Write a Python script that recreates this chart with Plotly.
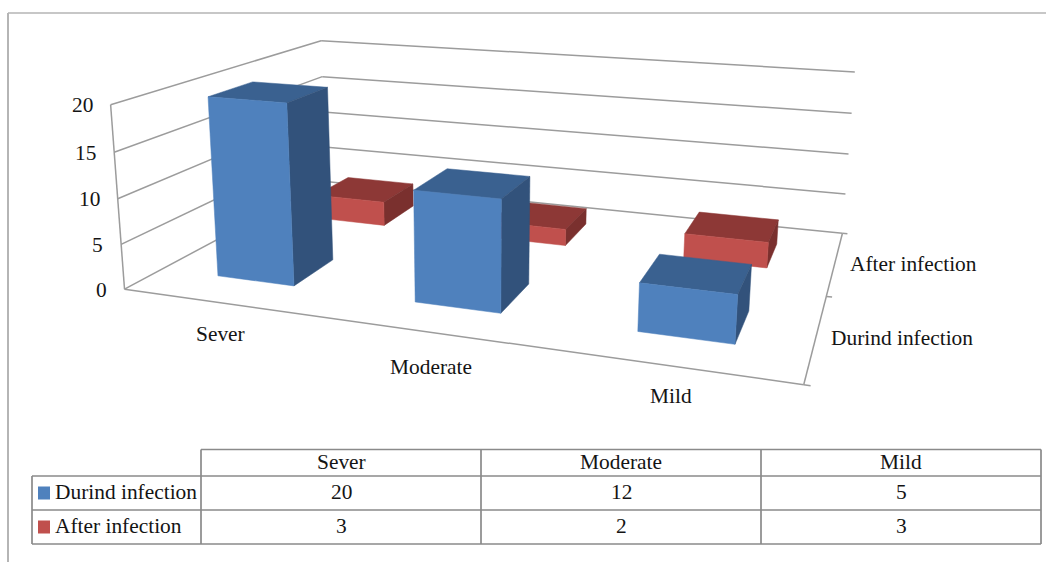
import numpy as np
import plotly.graph_objects as go

# Chart data
categories = ["Sever", "Moderate", "Mild"]
series_names = ["Durind infection", "After infection"]
during_infection = [20, 12, 5]
after_infection = [3, 2, 3]
value_ticks = [0, 5, 10, 15, 20]

# Projective view of the (category, series, value) box onto page pixels
VIEW = np.array([
    [179.093, 153.868, -0.904563, 124.529],
    [9.19007, -24.1428, -9.4218, 289.196],
    [-0.0588586, 0.16372, -0.00188904, 1.0],
])
BAR_WIDTH = 0.3995
BAR_DEPTH = 0.3942
TEXT_FONT = "Liberation Serif"
TEXT_SIZE = 21.4
TEXT_COLOR = "#141414"
GRID_COLOR = "#9c9c9c"
TABLE_COLOR = "#8a8a8a"

STYLES = [
    {"front": "#4f81bd", "top": "#3a6190", "side": "#32527b"},
    {"front": "#c0504d", "top": "#8d3836", "side": "#7a302e"},
]


def project(x, y, z):
    h = VIEW @ np.array([x, y, z, 1.0])
    return h[0] / h[2], h[1] / h[2]


def polygon(corners, color):
    xy = [project(*c) for c in corners]
    xs = [p[0] for p in xy] + [xy[0][0]]
    ys = [p[1] for p in xy] + [xy[0][1]]
    return go.Scatter(x=xs, y=ys, mode="lines", fill="toself", fillcolor=color,
                      line=dict(color=color, width=0.5), hoverinfo="skip", showlegend=False)


def segment(a, b, color=GRID_COLOR, width=1.5):
    pa, pb = project(*a), project(*b)
    return go.Scatter(x=[pa[0], pb[0]], y=[pa[1], pb[1]], mode="lines",
                      line=dict(color=color, width=width), hoverinfo="skip", showlegend=False)


def bar_faces(k, j, value, style):
    x0, x1 = k + 0.5 - BAR_WIDTH / 2, k + 0.5 + BAR_WIDTH / 2
    y0, y1 = j + 0.5 - BAR_DEPTH / 2, j + 0.5 + BAR_DEPTH / 2
    return [
        polygon([(x0, y0, value), (x1, y0, value), (x1, y1, value), (x0, y1, value)], style["top"]),
        polygon([(x1, y0, 0), (x1, y1, 0), (x1, y1, value), (x1, y0, value)], style["side"]),
        polygon([(x0, y0, 0), (x1, y0, 0), (x1, y0, value), (x0, y0, value)], style["front"]),
    ]


fig = go.Figure()

# Walls, floor edges and axis ticks
n_cat, n_ser = len(categories), len(series_names)
for v in value_ticks:
    fig.add_trace(segment((0, 0, v), (0, n_ser, v)))
    fig.add_trace(segment((0, n_ser, v), (n_cat, n_ser, v)))
fig.add_trace(segment((0, 0, 0), (0, 0, value_ticks[-1])))
fig.add_trace(segment((0, 0, 0), (n_cat, 0, 0)))
fig.add_trace(segment((n_cat, 0, 0), (n_cat, n_ser, 0)))
for j in range(n_ser + 1):
    fig.add_trace(segment((n_cat, j, 0), (n_cat + 0.025, j, 0)))

# Rear row first so the front row overlaps it
for j, values in reversed(list(enumerate([during_infection, after_infection]))):
    for k, value in enumerate(values):
        for face in bar_faces(k, j, value, STYLES[j]):
            fig.add_trace(face)


annotations = []


def label(text, x, y, anchor="center"):
    annotations.append(dict(x=x, y=y, xref="x", yref="y", text=str(text), showarrow=False,
                            xanchor=anchor, yanchor="middle",
                            font=dict(family=TEXT_FONT, size=TEXT_SIZE, color=TEXT_COLOR)))


# Axis labels
for v in value_ticks:
    px, py = project(0, 0, v)
    label(v, px - 16, py + 0.5, "right")
for name, (px, py) in zip(categories, [(220, 334), (431, 367), (671, 396)]):
    label(name, px, py)
for name, (px, py) in zip(series_names, [(902, 337.5), (913, 264)]):
    label(name, px, py)

# Data table underneath the plot
col_x = [32, 201, 481, 761, 1041]
row_y = [449.5, 476, 510, 544]
shapes = []


def rule(x0, y0, x1, y1, color=TABLE_COLOR, width=1.7):
    shapes.append(dict(type="line", xref="x", yref="y", x0=x0, y0=y0, x1=x1, y1=y1,
                       line=dict(color=color, width=width)))


rule(col_x[1], row_y[0], col_x[-1], row_y[0])
for y in row_y[1:]:
    rule(col_x[0], y, col_x[-1], y)
rule(col_x[0], row_y[1], col_x[0], row_y[-1])
for x in col_x[1:]:
    rule(x, row_y[0], x, row_y[-1])

for i, name in enumerate(categories):
    label(name, (col_x[i + 1] + col_x[i + 2]) / 2, (row_y[0] + row_y[1]) / 2 - 1)
for j, (name, values) in enumerate(zip(series_names, [during_infection, after_infection])):
    cy = (row_y[j + 1] + row_y[j + 2]) / 2
    shapes.append(dict(type="rect", xref="x", yref="y", x0=38, x1=50, y0=cy - 6.5, y1=cy + 6.5,
                       fillcolor=STYLES[j]["front"], line=dict(width=0)))
    label(name, 52.5, cy - 1, "left")
    for i, value in enumerate(values):
        label(value, (col_x[i + 1] + col_x[i + 2]) / 2, cy - 1)

# Page frame along the top and left edges
rule(8, 13, 1046, 13, "#b5b5b5", 1.6)
rule(8, 13, 8, 562, "#b5b5b5", 2)

fig.update_layout(
    width=1051, height=562, margin=dict(l=0, r=0, t=0, b=0),
    paper_bgcolor="white", plot_bgcolor="white", showlegend=False,
    xaxis=dict(range=[0, 1051], visible=False, fixedrange=True),
    yaxis=dict(range=[562, 0], visible=False, fixedrange=True),
    shapes=shapes, annotations=annotations,
)
fig.write_html("out.html", config={"displayModeBar": False})
